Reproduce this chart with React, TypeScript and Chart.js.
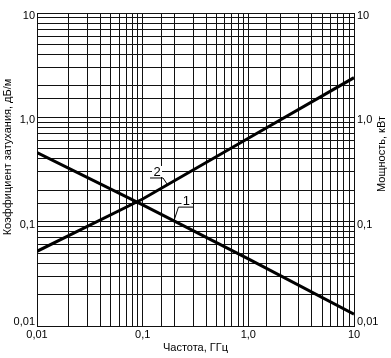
import React, { useEffect, useRef } from "react";
import { Chart, registerables } from "chart.js";

Chart.register(...registerables);

const frequency = [0.01, 0.1, 1, 10];
const attenuation = [0.46, 0.145, 0.044, 0.013];
const power = [0.052, 0.165, 0.63, 2.4];
const majorValues = [0.01, 0.1, 1, 10];
const majorLabels = ["0,01", "0,1", "1,0", "10"];
const xTitle = "Частота, ГГц";
const leftTitle = "Коэффициент затухания, дБ/м";
const rightTitle = "Мощность, кВт";
const curveNames = ["1", "2"];

const FONT = '"Liberation Sans", Arial, sans-serif';

function labelFor(v: number, bottomShift: boolean) {
  const l = Math.log10(v);
  if (Math.abs(l - Math.round(l)) > 1e-6) return "";
  const idx = majorValues.findIndex((m) => Math.abs(Math.log10(m) - l) < 1e-6);
  if (idx < 0) return "";
  if (bottomShift && idx === 0) return [majorLabels[idx], ""];
  return majorLabels[idx];
}

function interpLog(arr: number[], xv: number) {
  const lx = Math.log10(xv);
  for (let i = 0; i < frequency.length - 1; i++) {
    const a = Math.log10(frequency[i]);
    const b = Math.log10(frequency[i + 1]);
    if (lx >= a && lx <= b) {
      const t = (lx - a) / (b - a);
      return Math.pow(10, Math.log10(arr[i]) + t * (Math.log10(arr[i + 1]) - Math.log10(arr[i])));
    }
  }
  return arr[arr.length - 1];
}

const decorPlugin = {
  id: "decor",
  afterDraw(chart: any) {
    const { ctx, chartArea, scales } = chart;
    ctx.save();
    ctx.fillStyle = "#000";
    ctx.strokeStyle = "#000";
    ctx.font = `11px ${FONT}`;
    ctx.textAlign = "center";
    ctx.textBaseline = "middle";
    // axis titles
    ctx.fillText(xTitle, (chartArea.left + chartArea.right) / 2, 348);
    ctx.save();
    ctx.translate(8, 157);
    ctx.rotate(-Math.PI / 2);
    ctx.fillText(leftTitle, 0, 0);
    ctx.restore();
    ctx.save();
    ctx.translate(382, 154);
    ctx.rotate(-Math.PI / 2);
    ctx.fillText(rightTitle, 0, 0);
    ctx.restore();

    // curve labels
    const xs = scales.x;
    const ys = scales.y;
    const y2s = scales.y2;
    ctx.font = `13px ${FONT}`;
    ctx.lineWidth = 1;
    // label 2 on power curve
    {
      const xv = 0.17;
      const px = xs.getPixelForValue(xv);
      const py = y2s.getPixelForValue(interpLog(power, xv));
      ctx.fillStyle = "#fff";
      ctx.fillRect(px - 15, py - 19, 10, 11);
      ctx.fillStyle = "#000";
      ctx.fillText(curveNames[1], px - 10, py - 13);
      ctx.beginPath();
      ctx.moveTo(px - 17, py - 7);
      ctx.lineTo(px - 4, py - 7);
      ctx.lineTo(px, py - 1);
      ctx.stroke();
    }
    // label 1 on attenuation curve
    {
      const xv = 0.2;
      const px = xs.getPixelForValue(xv);
      const py = ys.getPixelForValue(interpLog(attenuation, xv));
      ctx.fillStyle = "#fff";
      ctx.fillRect(px + 7, py - 26, 10, 11);
      ctx.fillStyle = "#000";
      ctx.fillText(curveNames[0], px + 12, py - 20);
      ctx.beginPath();
      ctx.moveTo(px + 19, py - 14);
      ctx.lineTo(px + 4, py - 14);
      ctx.lineTo(px, py - 2);
      ctx.stroke();
    }
    ctx.restore();
  },
};

export default function App() {
  const ref = useRef<HTMLCanvasElement | null>(null);
  useEffect(() => {
    document.body.style.margin = "0";
    const canvas = ref.current!;
    const chart = new Chart(canvas, {
      type: "line",
      data: {
        datasets: [
          {
            label: curveNames[0],
            data: frequency.map((x, i) => ({ x, y: attenuation[i] })),
            borderColor: "#000",
            borderWidth: 3,
            pointRadius: 0,
            yAxisID: "y",
          },
          {
            label: curveNames[1],
            data: frequency.map((x, i) => ({ x, y: power[i] })),
            borderColor: "#000",
            borderWidth: 3,
            pointRadius: 0,
            yAxisID: "y2",
          },
        ],
      },
      options: {
        animation: false,
        responsive: false,
        maintainAspectRatio: false,
        layout: { padding: { top: 13, left: 0, right: 0, bottom: 0 } },
        plugins: { legend: { display: false }, tooltip: { enabled: false } },
        scales: {
          x: {
            type: "logarithmic",
            position: "bottom",
            min: 0.01,
            max: 10,
            afterFit: (s: any) => { s.height = 32; },
            grid: { color: "#111", lineWidth: 1, drawTicks: false },
            border: { display: true, color: "#111", width: 1 },
            ticks: {
              autoSkip: false,
              maxRotation: 0,
              padding: 2,
              color: "#000",
              font: { family: FONT, size: 11 },
              callback: (v: any) => labelFor(Number(v), false),
            },
          },
          y: {
            type: "logarithmic",
            position: "left",
            min: 0.01,
            max: 10,
            afterFit: (s: any) => { s.width = 37; },
            grid: { color: "#111", lineWidth: 1, drawTicks: false },
            border: { display: true, color: "#111", width: 1 },
            ticks: {
              autoSkip: false,
              padding: 2,
              labelOffset: 3,
              color: "#000",
              font: { family: FONT, size: 11 },
              callback: (v: any) => labelFor(Number(v), true),
            },
          },
          y2: {
            type: "logarithmic",
            position: "right",
            min: 0.01,
            max: 10,
            afterFit: (s: any) => { s.width = 37; },
            grid: { display: false, drawTicks: false },
            border: { display: true, color: "#111", width: 1 },
            ticks: {
              autoSkip: false,
              padding: 3,
              labelOffset: 3,
              color: "#000",
              font: { family: FONT, size: 11 },
              callback: (v: any) => labelFor(Number(v), true),
            },
          },
        },
      } as any,
      plugins: [decorPlugin],
    });
    return () => chart.destroy();
  }, []);
  return (
    <div style={{ position: "absolute", left: 0, top: 0, width: 391, height: 358 }}>
      <canvas ref={ref} width={391} height={358} style={{ width: 391, height: 358 }} />
    </div>
  );
}
